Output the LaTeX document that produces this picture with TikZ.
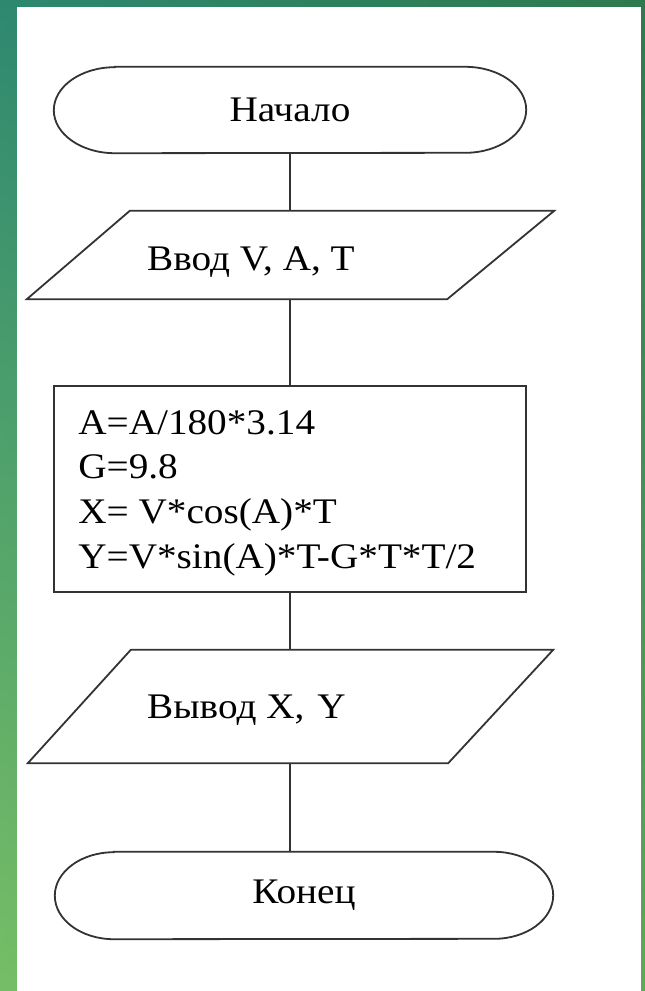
\documentclass[tikz,border=0pt]{standalone}
\usepackage{fontspec}
\setmainfont{Liberation Serif}[FakeStretch=1.09]
\usetikzlibrary{shadings}

\definecolor{slidetl}{RGB}{46,136,112}
\definecolor{slidetr}{RGB}{46,122,78}
\definecolor{slidebl}{RGB}{118,190,102}
\definecolor{slidebr}{RGB}{96,168,90}

\begin{document}
\begin{tikzpicture}%
  [x=1pt,y=1pt,
   every node/.style={font=\fontsize{36}{44.7}\selectfont},
   terminal/.style=
    {minimum height=86pt,inner sep=0pt},
   io/.style=
    {minimum height=88pt,minimum width=527pt,inner sep=0pt},
   process/.style=
    {draw,minimum width=472pt,minimum height=206pt,inner sep=0pt},
   caption/.style={anchor=base west,inner sep=0pt},
   outline/.style={line width=1.8pt,draw=black!80},
   joint/.style={line width=1.8pt,black!80}
  ]
  % slide
  \shade[upper left=slidetl,upper right=slidetr,lower left=slidebl,lower right=slidebr]
    (0,0) rectangle (645,-991);
  \fill[white] (17,-7) rectangle (641,-991);

  \node[terminal,minimum width=472pt] (start) at (290,-110) {Начало};
  \node[io] (in) at (290.5,-255) {};
  \node[caption] (inlabel) at (147,-270) {Ввод V, A, T};
  \node[process,outline] (calc) at (290,-489) {};
  \node[anchor=west,align=left,inner sep=0pt] (calclabel) at ([xshift=25pt,yshift=-4pt]calc.west)
    {A=A/180*3.14\\G=9.8\\X= V*cos(A)*T\\Y=V*sin(A)*T-G*T*T/2};
  \node[io,minimum height=113pt,minimum width=525pt] (out) at (290.5,-706.5) {};
  \node[caption] (outlabel) at (147,-718) {Вывод X,\hspace{13pt}Y};
  \node[terminal,minimum width=498pt,minimum height=87pt] (stop) at (304,-895.5) {Конец};

  % outlines
  \draw[outline] ([xshift=61pt]start.north west) -- ([xshift=-61pt]start.north east)
    arc[start angle=90,end angle=-90,x radius=61pt,y radius=43pt]
    -- ([xshift=61pt]start.south west)
    arc[start angle=270,end angle=90,x radius=61pt,y radius=43pt] -- cycle;
  \draw[outline] ([xshift=103pt]in.north west) -- (in.north east)
    -- ([xshift=-107pt]in.south east) -- (in.south west) -- cycle;
  \draw[outline] ([xshift=103pt]out.north west) -- (out.north east)
    -- ([xshift=-105pt]out.south east) -- (out.south west) -- cycle;
  \draw[outline] ([xshift=59pt]stop.north west) -- ([xshift=-59pt]stop.north east)
    arc[start angle=90,end angle=-90,x radius=59pt,y radius=43.5pt]
    -- ([xshift=59pt]stop.south west)
    arc[start angle=270,end angle=90,x radius=59pt,y radius=43.5pt] -- cycle;

  \draw[joint] (start.south) -- (start.south |- in.north);
  \draw[joint] (start.south |- in.south) -- (start.south |- calc.north);
  \draw[joint] (calc.south) -- (calc.south |- out.north);
  \draw[joint] (calc.south |- out.south) -- (calc.south |- stop.north);

\end{tikzpicture}
\end{document}
